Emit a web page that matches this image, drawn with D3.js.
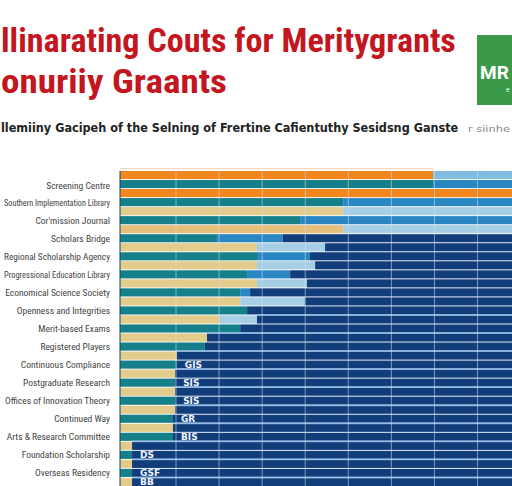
<!DOCTYPE html>
<html><head><meta charset="utf-8">
<script src="https://cdn.jsdelivr.net/npm/d3@7"></script>
<style>html,body{margin:0;padding:0;background:#fff;overflow:hidden}svg{display:block}</style>
</head><body>
<script>
// ---- data ----
const titleLines = ["llinarating Couts for Meritygrants", "onuriiy Graants"];
const subtitle = "llemiiny Gacipeh of the Selning of Frertine Cafientuthy Sesidsng Ganste";
const subtitleTail = "r siinhe";
const categories = [
  "Screening Centre","Southern Implementation Library","Cor'mission Journal","Scholars Bridge",
  "Regional Scholarship Agency","Progressional Education Library","Economical Science Society",
  "Openness and Integrities","Merit-based Exams","Registered Players","Continuous Compliance",
  "Postgraduate Research","Offices of Innovation Theory","Continued Way","Arts & Research Committee",
  "Foundation Scholarship","Overseas Residency"
];
// 35 stripes: first segment type, first segment end, second segment end (value units)
const stripeType = ["orange","teal","orange","teal","tan","teal","tanO","teal","tan","teal","tan","teal","tan","teal","tan","teal","tan","teal","tan","teal","tan","teal","tan","teal","tan","teal","tan","teal","tan","teal","tan","teal","tan","teal","tan"];
const seg1End = [72.7,72.7,95,51.8,51.8,41.8,51.8,22.5,31.8,31.8,31.8,29.5,31.8,27.9,27.9,29.5,23.2,27.9,20.2,19.7,13.2,13.2,12.8,12.8,12.8,12.8,12.8,12.3,12.3,12.3,2.8,2.8,2.8,2.8,2.8];
const seg2End = [95,95,95,95,95,95,95,37.8,47.6,44.1,45.3,39.5,43.4,30.2,42.9,29.5,31.8,27.9,20.2,19.7,13.2,13.2,12.8,12.8,12.8,12.8,12.8,12.3,12.3,12.3,2.8,2.8,2.8,2.8,2.8];
const totalEnd = 95;
const valueLabels = [
  {stripe:21,text:"GIS"},{stripe:23,text:"SIS"},{stripe:25,text:"SIS"},{stripe:27,text:"GR"},
  {stripe:29,text:"BIS"},{stripe:31,text:"DS"},{stripe:33,text:"GSF"},{stripe:34,text:"BB"}
];
const gridValues = [13,23,33,43,53,63,73,83];

// ---- styles ----
const W = 512, H = 486;
const col1 = {orange:"#f2861f", teal:"#15808a", tan:"#e3cb8c", tanO:"#e6be7a"};
const col2 = {orange:"#7fbde3", teal:"#2a86c2", tan:"#a6cfe6", tanO:"#a6cfe6"};
const navy = "#123d7b";

const svg = d3.select("body").append("svg").attr("width", W).attr("height", H);

const x = d3.scaleLinear().domain([0, 91]).range([120, 512]);
const stripes = d3.range(stripeType.length);
const y = d3.scaleBand().domain(stripes).range([171, 486]).paddingInner(0.1);
const yLab = d3.scalePoint().domain(categories).range([185, 472]);

// helper: fit text horizontally to a width with a real transform
function fitText(sel, x0, y0, width) {
  const len = sel.node().getComputedTextLength();
  sel.attr("x", 0).attr("y", 0)
     .attr("transform", `translate(${x0},${y0}) scale(${width/len},1)`);
}

// title
titleLines.forEach((t, i) => {
  const el = svg.append("text")
    .attr("font-family", "'Liberation Sans Narrow','Roboto Condensed','Arial Narrow',sans-serif")
    .attr("font-weight", "bold").attr("font-size", 34).attr("fill", "#c3161e").text(t);
  fitText(el, 1, i === 0 ? 52 : 93, i === 0 ? 455 : 226);
});

// green badge
svg.append("rect").attr("x", 477).attr("y", 35).attr("width", 40).attr("height", 70).attr("fill", "#3b9a4a");
svg.append("text").attr("x", 480).attr("y", 79).attr("font-family","Roboto,sans-serif").attr("font-weight","bold")
  .attr("font-size", 19).attr("fill", "#fff").text("MR");
svg.append("text").attr("x", 506).attr("y", 92).attr("font-family","Roboto,sans-serif")
  .attr("font-size", 7).attr("fill", "#dfe").text("e");

// subtitle
const sub = svg.append("text")
  .attr("font-family","'DejaVu Sans',sans-serif").attr("font-weight","bold").attr("font-size", 13)
  .attr("fill", "#222").text(subtitle);
fitText(sub, 1, 132, 458);
const tail = svg.append("text")
  .attr("font-family","'DejaVu Sans',sans-serif").attr("font-size", 9)
  .attr("fill", "#888").text(subtitleTail);
fitText(tail, 468, 132, 42);

// top frame line
svg.append("line").attr("x1", x(0)).attr("x2", x(72.7)).attr("y1", 168.5).attr("y2", 168.5)
  .attr("stroke", "#f6d2b4").attr("stroke-width", 1);

// bars
const bars = svg.append("g");
stripes.forEach(i => {
  const segs = [
    {x0:0, x1:seg1End[i], c:col1[stripeType[i]]},
    {x0:seg1End[i], x1:seg2End[i], c:col2[stripeType[i]]},
    {x0:seg2End[i], x1:totalEnd, c: stripeType[i]==="orange" && i===2 ? col1.orange : navy}
  ].filter(s => s.x1 > s.x0);
  bars.selectAll(null).data(segs).join("rect")
    .attr("x", s => x(s.x0)).attr("width", s => x(s.x1) - x(s.x0))
    .attr("y", y(i)).attr("height", y.bandwidth())
    .attr("fill", s => s.c);
});

// separators between category pairs in the dark area
svg.append("g").selectAll("line").data(d3.range(16, 35, 2)).join("line")
  .attr("x1", i => x(seg2End[i])).attr("x2", W)
  .attr("y1", i => y(i) - 0.5).attr("y2", i => y(i) - 0.5)
  .attr("stroke", "#8fb9e6").attr("stroke-width", 2).attr("opacity", 0.8);

// vertical grid
svg.append("g").selectAll("line").data(gridValues).join("line")
  .attr("x1", d=>x(d)).attr("x2", d=>x(d)).attr("y1", 171).attr("y2", 486)
  .attr("stroke", "#cfe3f4").attr("stroke-width", 1).attr("opacity", 0.55);

// left axis line
svg.append("line").attr("x1", x(0)).attr("x2", x(0)).attr("y1", 171).attr("y2", 486)
  .attr("stroke", "#0b4a5a").attr("stroke-width", 1);

// category labels
const labs = svg.append("g").selectAll("text").data(categories).join("text")
  .attr("x", 110).attr("y", d => yLab(d) + 3.5)
  .attr("text-anchor", "end")
  .attr("font-family", "'Liberation Sans Narrow','Roboto Condensed',Roboto,sans-serif")
  .attr("font-size", 9.5).attr("fill", "#444").text(d => d);
labs.each(function(){
  const len = this.getComputedTextLength();
  if (len > 106) d3.select(this).attr("textLength", 106).attr("lengthAdjust", "spacingAndGlyphs");
});

// value labels
svg.append("g").selectAll("text").data(valueLabels).join("text")
  .attr("x", d => x(seg1End[d.stripe]) + 8)
  .attr("y", d => y(d.stripe) + y.bandwidth()/2 + 3.5)
  .attr("font-family", "'DejaVu Sans',sans-serif").attr("font-weight","bold")
  .attr("font-size", 9).attr("fill", "#eef3ff").text(d => d.text);
</script>
</body></html>
